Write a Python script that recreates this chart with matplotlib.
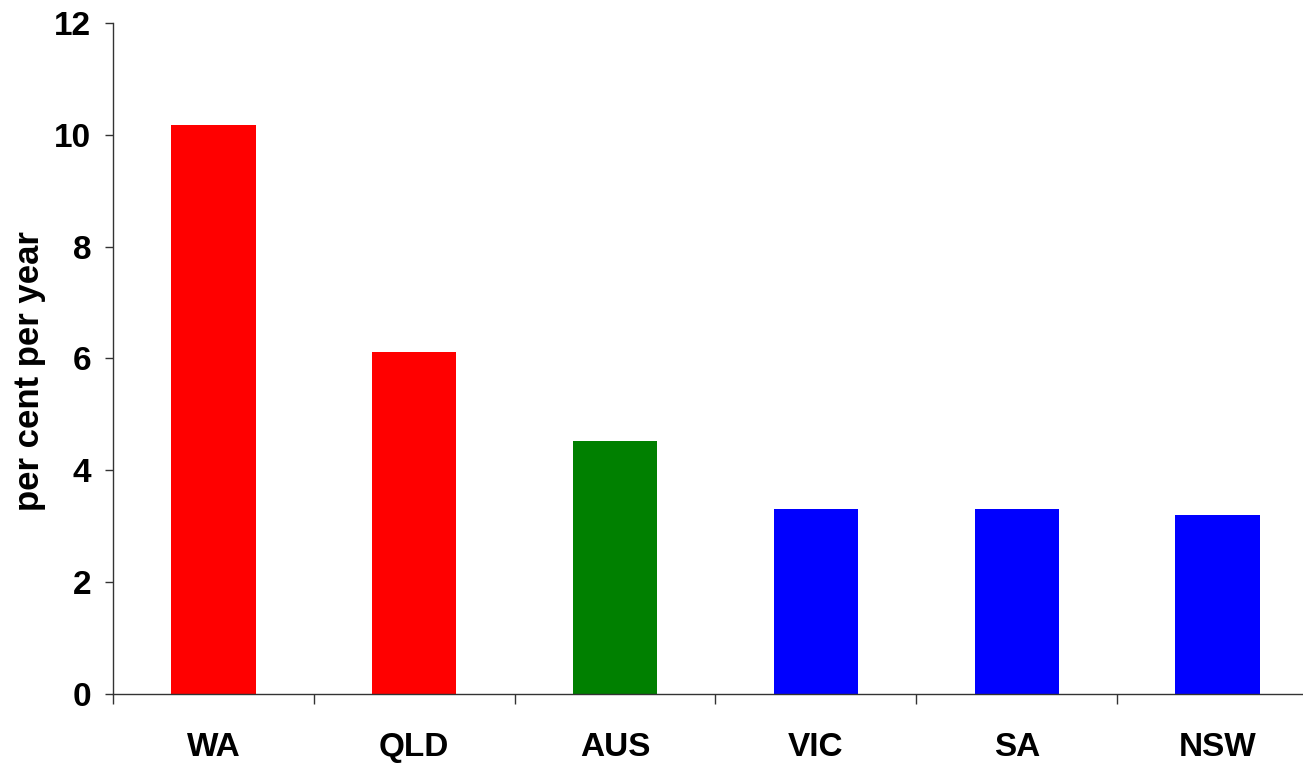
import matplotlib.pyplot as plt

states = ['WA', 'QLD', 'AUS', 'VIC', 'SA', 'NSW']
growth = [10.18, 6.12, 4.53, 3.31, 3.31, 3.20]
bar_colors = ['#ff0000', '#ff0000', '#008000', '#0000ff', '#0000ff', '#0000ff']

plt.rcParams['font.family'] = ['Liberation Sans', 'DejaVu Sans']
plt.rcParams['font.weight'] = 'bold'

fig = plt.figure(figsize=(13.03, 7.63), dpi=100)
ax = fig.add_axes([0.0867, 0.0904, 0.9248, 0.8795])

x = range(len(states))
ax.bar(x, growth, width=0.42, color=bar_colors, zorder=2)

ax.set_xlim(-0.5, len(states) - 0.5)
ax.set_ylim(0, 12)
ax.set_yticks(range(0, 13, 2))

# category separators as ticks on the x axis, labels centred under bars
ax.set_xticks([i - 0.5 for i in range(len(states))], minor=False)
ax.set_xticklabels([])
ax.set_xticks(list(x), minor=True)
ax.set_xticklabels(states, minor=True, fontsize=24, fontweight='bold')
ax.tick_params(axis='x', which='minor', length=0, pad=27)
ax.tick_params(axis='x', which='major', length=7, width=1, direction='out', color='#333333')
ax.tick_params(axis='y', length=6, width=1, direction='out', color='#333333', pad=9.5,
               labelsize=24)
for lbl in ax.get_yticklabels():
    lbl.set_fontweight('bold')

for side in ['top', 'right']:
    ax.spines[side].set_visible(False)
for side in ['left', 'bottom']:
    ax.spines[side].set_color('#333333')
    ax.spines[side].set_linewidth(1)

ax.set_ylabel('per cent per year', fontsize=25, fontweight='bold')
ax.yaxis.set_label_coords(-0.0555, 0.481)

fig.savefig('out.png', dpi=100)
